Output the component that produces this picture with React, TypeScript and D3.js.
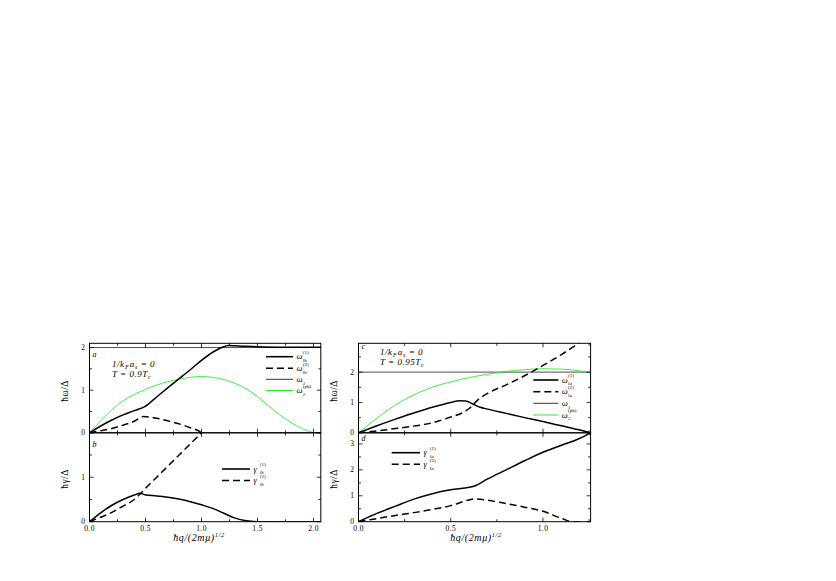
import React from "react";
import * as d3 from "d3";

// ---------- DATA ----------
// Panel a (left top): omega vs q
const qA_w1 = [0, 0.1, 0.2, 0.3, 0.4, 0.49, 0.6, 0.7, 0.8, 0.9, 1.0, 1.1, 1.18, 1.24, 1.3, 1.4, 1.5, 1.7, 2.07];
const vA_w1 = [0, 0.16, 0.3, 0.42, 0.52, 0.61, 0.84, 1.06, 1.27, 1.48, 1.7, 1.89, 2.0, 2.05, 2.04, 2.03, 2.02, 2.01, 2.01];
const qA_w2 = [0, 0.1, 0.2, 0.3, 0.4, 0.48, 0.6, 0.7, 0.8, 0.9, 0.97, 1.0];
const vA_w2 = [0, 0.05, 0.1, 0.18, 0.27, 0.38, 0.34, 0.28, 0.21, 0.12, 0.05, 0];
const qA_g = [0, 0.1, 0.2, 0.3, 0.4, 0.5, 0.6, 0.7, 0.8, 0.9, 1.0, 1.1, 1.2, 1.3, 1.4, 1.5, 1.6, 1.7, 1.8, 1.9, 2.0];
const vA_g = [0, 0.28, 0.54, 0.75, 0.9, 1.02, 1.12, 1.2, 1.26, 1.3, 1.32, 1.3, 1.25, 1.16, 1.03, 0.85, 0.63, 0.42, 0.24, 0.1, 0];
const omega1 = 2.0;

// Panel b (left bottom): gamma vs q
const qB_g1 = [0, 0.1, 0.2, 0.3, 0.4, 0.45, 0.5, 0.6, 0.7, 0.8, 0.9, 1.0, 1.1, 1.2, 1.3, 1.4, 1.5, 2.07];
const vB_g1 = [0, 0.2, 0.37, 0.5, 0.6, 0.64, 0.6, 0.58, 0.55, 0.51, 0.45, 0.38, 0.3, 0.19, 0.08, 0.02, 0, 0];
const qB_g2 = [0, 0.1, 0.2, 0.3, 0.4, 0.45, 0.5, 0.6, 0.7, 0.8, 0.9, 1.0];
const vB_g2 = [0, 0.1, 0.21, 0.35, 0.5, 0.62, 0.75, 1.0, 1.25, 1.5, 1.75, 2.0];

// Panel c (right top)
const qC_w1 = [0, 0.1, 0.2, 0.3, 0.4, 0.5, 0.55, 0.58, 0.62, 0.66, 0.7, 0.8, 0.9, 1.0, 1.1, 1.2, 1.258];
const vC_w1 = [0, 0.23, 0.45, 0.65, 0.84, 1.0, 1.06, 1.05, 0.95, 0.84, 0.78, 0.64, 0.5, 0.37, 0.23, 0.09, 0];
const qC_w2 = [0, 0.1, 0.2, 0.3, 0.4, 0.5, 0.55, 0.6, 0.65, 0.7, 0.8, 0.9, 1.0, 1.1, 1.2];
const vC_w2 = [0, 0.06, 0.14, 0.22, 0.33, 0.52, 0.62, 0.8, 1.1, 1.3, 1.58, 1.88, 2.22, 2.58, 2.98];
const qC_g = [0, 0.1, 0.2, 0.3, 0.4, 0.5, 0.6, 0.7, 0.8, 0.9, 1.0, 1.1, 1.2, 1.258];
const vC_g = [0, 0.48, 0.92, 1.25, 1.5, 1.68, 1.82, 1.93, 2.02, 2.08, 2.11, 2.1, 2.04, 1.98];

// Panel d (right bottom)
const qD_g1 = [0, 0.1, 0.2, 0.3, 0.4, 0.5, 0.6, 0.63, 0.7, 0.8, 0.9, 1.0, 1.1, 1.2, 1.258];
const vD_g1 = [0, 0.32, 0.6, 0.87, 1.08, 1.23, 1.33, 1.38, 1.65, 2.0, 2.35, 2.68, 2.95, 3.22, 3.43];
const qD_g2 = [0, 0.1, 0.2, 0.3, 0.4, 0.5, 0.6, 0.63, 0.7, 0.8, 0.9, 1.0, 1.1, 1.16, 1.2];
const vD_g2 = [0, 0.12, 0.24, 0.35, 0.47, 0.62, 0.84, 0.88, 0.83, 0.7, 0.56, 0.4, 0.13, 0, 0];

// ticks
const xTicksLeft = [0, 0.5, 1.0, 1.5, 2.0];
const xTickLabelsLeft = ["0.0", "0.5", "1.0", "1.5", "2.0"];
const xTicksRight = [0, 0.5, 1.0];
const xTickLabelsRight = ["0.0", "0.5", "1.0"];
const yTicksA = [0, 1, 2];
const yTicksB = [0, 1];
const yTicksC = [0, 1, 2];
const yTicksD = [0, 1, 2, 3];

// ---------- LAYOUT ----------
const LX0 = 89.5, LX1 = 320.8, RX0 = 358.5, RX1 = 590.6;
const TY0 = 343.3, MY = 432.8, BY1 = 521.7;
const GREEN = "#2ee82e";
const FONT = "'Liberation Serif', 'DejaVu Serif', serif";

type S = { q: number[]; v: number[]; kind: string };

function styleFor(kind: string) {
  if (kind === "solid") return { stroke: "#000", strokeWidth: 1.5 };
  if (kind === "dash") return { stroke: "#000", strokeWidth: 1.5, strokeDasharray: "7,4" };
  if (kind === "thin") return { stroke: "#000", strokeWidth: 0.7 };
  return { stroke: GREEN, strokeWidth: 0.9 };
}

function Panel(props: {
  id: string; x0: number; x1: number; y0: number; y1: number;
  xMax: number; yMax: number; series: S[]; yTicks: number[];
  xTicks: number[]; xLabels: string[] | null;
}) {
  const { id, x0, x1, y0, y1, xMax, yMax, series, yTicks, xTicks, xLabels } = props;
  const x = d3.scaleLinear().domain([0, xMax]).range([x0, x1]);
  const y = d3.scaleLinear().domain([0, yMax]).range([y1, y0]);
  const line = d3.line<[number, number]>().x(d => x(d[0])).y(d => y(d[1])).curve(d3.curveMonotoneX);
  const xMinor = d3.range(0, xMax + 1e-9, 0.25);
  const yMinor = d3.range(0, yMax + 1e-9, 0.5);
  return (
    <g>
      <defs>
        <clipPath id={"clip" + id}>
          <rect x={x0} y={y0} width={x1 - x0} height={y1 - y0} />
        </clipPath>
      </defs>
      <g clipPath={`url(#clip${id})`}>
        {series.map((s, i) => (
          <path key={i} d={line(s.q.map((q, j) => [q, s.v[j]] as [number, number])) || ""} fill="none" {...styleFor(s.kind)} />
        ))}
      </g>
      <rect x={x0} y={y0} width={x1 - x0} height={y1 - y0} fill="none" stroke="#000" strokeWidth={1} />
      {xMinor.map((t, i) => {
        const major = Math.abs(t * 2 - Math.round(t * 2)) < 1e-6;
        const L = major ? 4 : 2.5;
        return (
          <g key={"xt" + i}>
            <line x1={x(t)} x2={x(t)} y1={y1} y2={y1 - L} stroke="#000" strokeWidth={0.8} />
            <line x1={x(t)} x2={x(t)} y1={y0} y2={y0 + L} stroke="#000" strokeWidth={0.8} />
          </g>
        );
      })}
      {yMinor.map((t, i) => {
        const major = Math.abs(t - Math.round(t)) < 1e-6;
        const L = major ? 4 : 2.5;
        return (
          <g key={"yt" + i}>
            <line x1={x0} x2={x0 + L} y1={y(t)} y2={y(t)} stroke="#000" strokeWidth={0.8} />
            <line x1={x1} x2={x1 - L} y1={y(t)} y2={y(t)} stroke="#000" strokeWidth={0.8} />
          </g>
        );
      })}
      {yTicks.map((t, i) => (
        <text key={"yl" + i} x={x0 - 4.5} y={y(t) + 2.5} fontSize={7.5} textAnchor="end" fontFamily={FONT}>{t}</text>
      ))}
      {xLabels && xTicks.map((t, i) => (
        <text key={"xl" + i} x={x(t)} y={y1 + 9.5} fontSize={7.5} letterSpacing={0.4} textAnchor="middle" fontFamily={FONT}>{xLabels[i]}</text>
      ))}
    </g>
  );
}

function Sym(props: { x: number; y: number; base: string; sub?: string; sup?: string }) {
  const { x, y, base, sub, sup } = props;
  const w = 6.3;
  return (
    <g fontFamily={FONT} fontStyle="italic">
      <text x={x} y={y + 2.5} fontSize={8.5}>{base}</text>
      {sup && <text x={x + w} y={y - 2.6} fontSize={5} fontStyle="normal">{sup}</text>}
      {sub && <text x={x + w} y={y + 5.2} fontSize={5}>{sub}</text>}
    </g>
  );
}

function LegendRow(props: { x0: number; x1: number; y: number; kind: string; base: string; sub?: string; sup?: string }) {
  const { x0, x1, y, kind, base, sub, sup } = props;
  return (
    <g>
      <line x1={x0} x2={x1} y1={y} y2={y} {...styleFor(kind)} strokeWidth={kind === "thin" ? 0.8 : kind === "green" ? 1 : 1.6} />
      <Sym x={x1 + 3.5} y={y} base={base} sub={sub} sup={sup} />
    </g>
  );
}

function Annot(props: { x: number; y: number; T: string }) {
  const { x, y, T } = props;
  return (
    <g fontFamily={FONT} fontSize={9} fontStyle="italic" letterSpacing={0.5}>
      <text x={x} y={y}>
        1/k<tspan fontSize={6} dx={0.4} dy={2}>F</tspan><tspan dx={0.6} dy={-2}>a</tspan><tspan fontSize={6} dx={0.4} dy={2}>s</tspan><tspan dy={-2}> = 0</tspan>
      </text>
      <text x={x} y={y + 9.5}>
        T = {T}T<tspan fontSize={6} dx={0.4} dy={2}>c</tspan>
      </text>
    </g>
  );
}

function XTitle(props: { x: number; y: number }) {
  return (
    <text x={props.x} y={props.y} fontFamily={FONT} fontSize={10} fontStyle="italic" letterSpacing={0.6} textAnchor="middle">
      ħq/(2mμ)<tspan fontSize={6.5} dy={-4}>1/2</tspan>
    </text>
  );
}

function YTitle(props: { x: number; y: number; t: string }) {
  return (
    <text transform={`translate(${props.x},${props.y}) rotate(-90)`} fontFamily={FONT} fontSize={9.5} letterSpacing={0.4} textAnchor="middle">
      {props.t}
    </text>
  );
}

export default function App() {
  return (
    <svg width={836} height={581} style={{ display: "block", position: "absolute", left: 0, top: 0 }}>
      <rect width={836} height={581} fill="#fff" />
      <Panel id="a" x0={LX0} x1={LX1} y0={TY0} y1={MY} xMax={2.065} yMax={2.1} yTicks={yTicksA} xTicks={xTicksLeft} xLabels={null}
        series={[
          { q: [0, 2.065], v: [omega1, omega1], kind: "thin" },
          { q: qA_g, v: vA_g, kind: "green" },
          { q: qA_w2, v: vA_w2, kind: "dash" },
          { q: qA_w1, v: vA_w1, kind: "solid" },
        ]} />
      <Panel id="b" x0={LX0} x1={LX1} y0={MY} y1={BY1} xMax={2.065} yMax={2.0} yTicks={yTicksB} xTicks={xTicksLeft} xLabels={xTickLabelsLeft}
        series={[
          { q: qB_g2, v: vB_g2, kind: "dash" },
          { q: qB_g1, v: vB_g1, kind: "solid" },
        ]} />
      <Panel id="c" x0={RX0} x1={RX1} y0={TY0} y1={MY} xMax={1.258} yMax={2.95} yTicks={yTicksC} xTicks={xTicksRight} xLabels={null}
        series={[
          { q: [0, 1.258], v: [omega1, omega1], kind: "thin" },
          { q: qC_g, v: vC_g, kind: "green" },
          { q: qC_w2, v: vC_w2, kind: "dash" },
          { q: qC_w1, v: vC_w1, kind: "solid" },
        ]} />
      <Panel id="d" x0={RX0} x1={RX1} y0={MY} y1={BY1} xMax={1.258} yMax={3.43} yTicks={yTicksD} xTicks={xTicksRight} xLabels={xTickLabelsRight}
        series={[
          { q: qD_g2, v: vD_g2, kind: "dash" },
          { q: qD_g1, v: vD_g1, kind: "solid" },
        ]} />

      {/* panel letters */}
      <g fontFamily={FONT} fontSize={8} fontStyle="italic">
        <text x={92.5} y={357}>a</text>
        <text x={92.5} y={447}>b</text>
        <text x={361.5} y={349}>c</text>
        <text x={361.5} y={441}>d</text>
      </g>

      <Annot x={112} y={367} T="0.9" />
      <Annot x={380} y={355} T="0.95" />

      {/* legends */}
      <LegendRow x0={266} x1={293} y={356.7} kind="solid" base="ω" sub="lb" sup="(1)" />
      <LegendRow x0={266} x1={293} y={368.3} kind="dash" base="ω" sub="lb" sup="(2)" />
      <LegendRow x0={266} x1={293} y={379.3} kind="thin" base="ω" sub="1" />
      <LegendRow x0={266} x1={293} y={390.5} kind="green" base="ω" sub="2" sup="(pb)" />

      <LegendRow x0={222} x1={250} y={469} kind="solid" base="γ" sub="lb" sup="(1)" />
      <LegendRow x0={222} x1={250} y={480.5} kind="dash" base="γ" sub="lb" sup="(2)" />

      <LegendRow x0={533.3} x1={558.3} y={380} kind="solid" base="ω" sub="la" sup="(1)" />
      <LegendRow x0={533.3} x1={558.3} y={391.7} kind="dash" base="ω" sub="la" sup="(2)" />
      <LegendRow x0={533.3} x1={558.3} y={403.3} kind="thin" base="ω" sub="1" />
      <LegendRow x0={533.3} x1={558.3} y={415} kind="green" base="ω" sub="2" sup="(pb)" />

      <LegendRow x0={391.7} x1={420} y={452.7} kind="solid" base="γ" sub="la" sup="(1)" />
      <LegendRow x0={391.7} x1={420} y={464.3} kind="dash" base="γ" sub="la" sup="(2)" />

      <XTitle x={199} y={541} />
      <XTitle x={476} y={541} />
      <YTitle x={68} y={391} t="ħω/Δ" />
      <YTitle x={68} y={479} t="ħγ/Δ" />
      <YTitle x={337} y={391} t="ħω/Δ" />
      <YTitle x={337} y={479} t="ħγ/Δ" />
    </svg>
  );
}
